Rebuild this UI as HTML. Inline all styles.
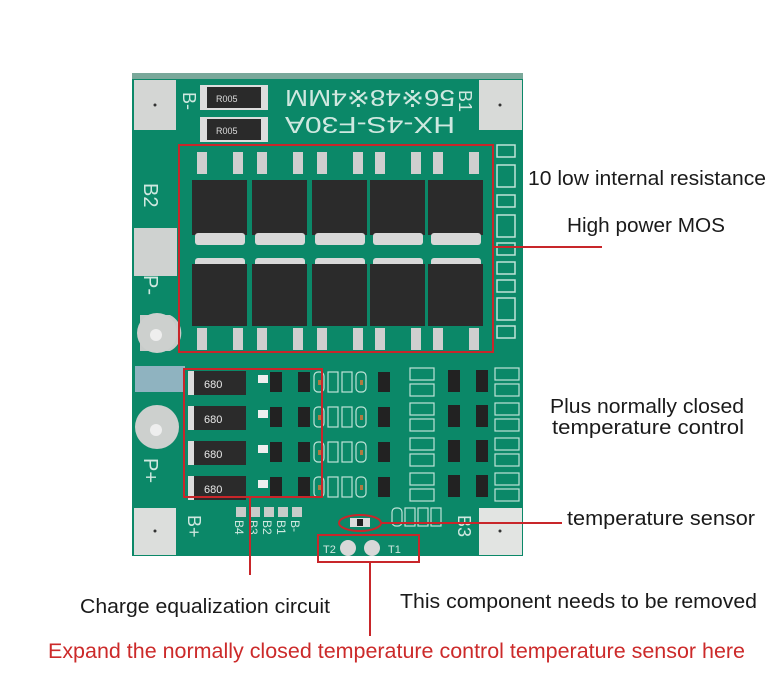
<!DOCTYPE html>
<html><head><meta charset="utf-8"><style>
html,body{margin:0;padding:0;background:#fff;}
svg{display:block;}
text{font-family:"Liberation Sans",sans-serif;}
</style></head><body>
<svg width="768" height="698" viewBox="0 0 768 698" xmlns="http://www.w3.org/2000/svg">
<rect width="768" height="698" fill="#fff"/>
<!-- board -->
<rect x="132" y="73" width="391" height="483" fill="#0b8868"/>
<rect x="132" y="73" width="391" height="6" fill="#7aa89a"/>
<!-- corner pads -->
<rect x="134" y="80" width="42" height="50" fill="#d4d6d4"/>
<rect x="479" y="80" width="43" height="50" fill="#d8dad8"/>
<rect x="134" y="228" width="43" height="48" fill="#cfd2d0"/>
<rect x="134" y="508" width="42" height="47" fill="#dcdedc"/>
<rect x="479" y="508" width="43" height="47" fill="#e2e4e2"/>
<circle cx="155" cy="105" r="1.5" fill="#333"/><circle cx="500" cy="105" r="1.5" fill="#333"/>
<circle cx="155" cy="531" r="1.5" fill="#333"/><circle cx="500" cy="531" r="1.5" fill="#333"/>
<!-- round pads -->
<path d="M140 315 h30 a20 20 0 0 1 0 36 h-30 z" fill="#c8ccca"/>
<circle cx="157" cy="333" r="20" fill="#cdd0ce"/><circle cx="156" cy="335" r="6" fill="#eee"/>
<rect x="135" y="366" width="50" height="26" fill="#8fb3c0"/>
<circle cx="157" cy="427" r="22" fill="#cdd0ce"/><circle cx="156" cy="430" r="6" fill="#eee"/>
<!-- silk text -->
<g fill="#cfe8e0" font-size="18">
<text x="0" y="0" transform="translate(183,92) rotate(90)">B-</text>
<text x="0" y="0" transform="translate(459,90) rotate(90)">B1</text>
<text x="0" y="0" transform="translate(144,183) rotate(90)" font-size="20">B2</text>
<text x="0" y="0" transform="translate(144,275) rotate(90)" font-size="20">P-</text>
<text x="0" y="0" transform="translate(144,458) rotate(90)" font-size="20">P+</text>
<text x="0" y="0" transform="translate(188,515) rotate(90)">B+</text>
<text x="0" y="0" transform="translate(458,515) rotate(90)">B3</text>
<text x="0" y="0" transform="translate(455,90) rotate(180)" font-size="23" textLength="170" lengthAdjust="spacingAndGlyphs">56※48※4MM</text>
<text x="0" y="0" transform="translate(455,117) rotate(180)" font-size="23" textLength="170" lengthAdjust="spacingAndGlyphs">HX-4S-F30A</text>
</g>
<!-- top resistors -->
<rect x="200" y="85" width="68" height="25" fill="#ddd"/><rect x="207" y="87" width="54" height="21" fill="#2a2a2a"/>
<text x="216" y="102" font-size="9" fill="#ddd">R005</text>
<rect x="200" y="117" width="68" height="25" fill="#ddd"/><rect x="207" y="119" width="54" height="21" fill="#2a2a2a"/>
<text x="216" y="134" font-size="9" fill="#ddd">R005</text>
<!-- MOSFETs -->
<g>
<g id="m1">
<rect x="197" y="152" width="10" height="22" fill="#cfcfcf"/><rect x="233" y="152" width="10" height="22" fill="#cfcfcf"/>
<rect x="192" y="180" width="55" height="55" fill="#2b2b2b"/><rect x="195" y="233" width="50" height="12" fill="#d8d8d8" rx="3"/>
<rect x="195" y="258" width="50" height="12" fill="#d8d8d8" rx="3"/><rect x="192" y="264" width="55" height="62" fill="#2b2b2b"/>
<rect x="197" y="328" width="10" height="22" fill="#cfcfcf"/><rect x="233" y="328" width="10" height="22" fill="#cfcfcf"/>
</g>
<use href="#m1" x="60"/><use href="#m1" x="120"/><use href="#m1" x="178"/><use href="#m1" x="236"/>
</g>
<!-- right column small parts -->
<g fill="none" stroke="#bfe3d8" stroke-width="1.5">
<rect x="497" y="145" width="18" height="12"/><rect x="497" y="165" width="18" height="22"/><rect x="497" y="195" width="18" height="12"/>
<rect x="497" y="215" width="18" height="22"/><rect x="497" y="243" width="18" height="12"/><rect x="497" y="262" width="18" height="12"/>
<rect x="497" y="280" width="18" height="12"/><rect x="497" y="298" width="18" height="22"/><rect x="497" y="326" width="18" height="12"/>
</g>
<!-- balance rows -->
<g id="row">
<rect x="188" y="371" width="58" height="24" fill="#2b2b2b"/><rect x="188" y="371" width="6" height="24" fill="#ddd"/>
<text x="204" y="388" font-size="11" fill="#e8e8e8">680</text>
<rect x="258" y="375" width="10" height="8" fill="#eee"/>
<rect x="270" y="372" width="12" height="20" fill="#222"/><rect x="298" y="372" width="12" height="20" fill="#222"/>
<g fill="none" stroke="#bfe3d8" stroke-width="1.2">
<rect x="314" y="372" width="10" height="20" rx="4"/><rect x="328" y="372" width="10" height="20"/><rect x="342" y="372" width="10" height="20"/><rect x="356" y="372" width="10" height="20" rx="4"/>
<rect x="410" y="368" width="24" height="12"/><rect x="410" y="384" width="24" height="12"/>
<rect x="495" y="368" width="24" height="12"/><rect x="495" y="384" width="24" height="12"/>
</g>
<rect x="318" y="380" width="3" height="5" fill="#b07a40"/><rect x="360" y="380" width="3" height="5" fill="#b07a40"/>
<rect x="378" y="372" width="12" height="20" fill="#222"/>
<rect x="448" y="370" width="12" height="22" fill="#222"/><rect x="476" y="370" width="12" height="22" fill="#222"/>
</g>
<use href="#row" y="35"/><use href="#row" y="70"/><use href="#row" y="105"/>
<!-- bottom pads -->
<g fill="#c8cbc9"><rect x="236" y="507" width="10" height="10"/><rect x="250" y="507" width="10" height="10"/><rect x="264" y="507" width="10" height="10"/><rect x="278" y="507" width="10" height="10"/><rect x="292" y="507" width="10" height="10"/></g>
<g fill="#cfe8e0" font-size="12">
<text transform="translate(235,520) rotate(90)">B4</text><text transform="translate(249,520) rotate(90)">B3</text>
<text transform="translate(263,520) rotate(90)">B2</text><text transform="translate(277,520) rotate(90)">B1</text>
<text transform="translate(291,520) rotate(90)">B-</text>
<text x="323" y="553" font-size="11">T2</text><text x="388" y="553" font-size="11">T1</text>
</g>
<circle cx="348" cy="548" r="8" fill="#d8d8d8"/><circle cx="372" cy="548" r="8" fill="#d8d8d8"/>
<rect x="350" y="518" width="20" height="9" fill="#ddd"/><rect x="357" y="519" width="6" height="7" fill="#222"/>
<g fill="none" stroke="#bfe3d8" stroke-width="1.2"><rect x="392" y="508" width="10" height="18" rx="4"/><rect x="405" y="508" width="10" height="18"/><rect x="418" y="508" width="10" height="18"/><rect x="431" y="508" width="10" height="18"/></g>
<!-- red annotations -->
<g fill="none" stroke="#c8262a" stroke-width="2">
<rect x="179" y="145" width="314" height="207"/>
<line x1="493" y1="247" x2="602" y2="247"/>
<rect x="184" y="369" width="138" height="128"/>
<line x1="250" y1="497" x2="250" y2="575"/>
<ellipse cx="360" cy="523" rx="21" ry="8"/>
<line x1="381" y1="523" x2="562" y2="523"/>
<rect x="318" y="535" width="101" height="27"/>
<line x1="370" y1="562" x2="370" y2="636"/>
</g>
<!-- labels -->
<g fill="#1a1a1a" font-size="20">
<text x="528" y="185" textLength="238" lengthAdjust="spacingAndGlyphs">10 low internal resistance</text>
<text x="567" y="232" textLength="158" lengthAdjust="spacingAndGlyphs">High power MOS</text>
<text x="550" y="413" textLength="194" lengthAdjust="spacingAndGlyphs">Plus normally closed</text>
<text x="552" y="434" textLength="192" lengthAdjust="spacingAndGlyphs">temperature control</text>
<text x="567" y="525" textLength="188" lengthAdjust="spacingAndGlyphs">temperature sensor</text>
<text x="80" y="613" textLength="250" lengthAdjust="spacingAndGlyphs">Charge equalization circuit</text>
<text x="400" y="608" textLength="357" lengthAdjust="spacingAndGlyphs">This component needs to be removed</text>
</g>
<text x="48" y="658" font-size="21" fill="#cc2a2a" textLength="697" lengthAdjust="spacingAndGlyphs">Expand the normally closed temperature control temperature sensor here</text>
</svg>
</body></html>
